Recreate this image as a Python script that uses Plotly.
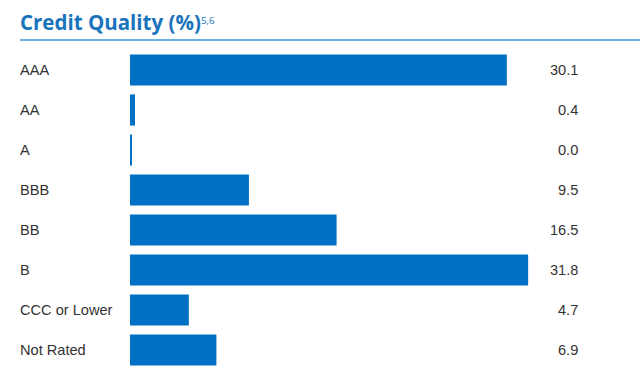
import plotly.graph_objects as go

categories = ["AAA", "AA", "A", "BBB", "BB", "B", "CCC or Lower", "Not Rated"]
values = [30.1, 0.4, 0.0, 9.5, 16.5, 31.8, 4.7, 6.9]
value_labels = ["30.1", "0.4", "0.0", "9.5", "16.5", "31.8", "4.7", "6.9"]

W, H = 640, 388
ml, mr, mt, mb = 130, 0, 50, 18
pw = W - ml - mr
ph = H - mt - mb

fig = go.Figure()
fig.add_trace(go.Bar(
    x=[max(v, 0.12) for v in values], y=categories, orientation="h",
    marker=dict(color="#0070c4", line=dict(width=0)),
    width=0.78, hoverinfo="skip",
))

ann = []
for c, lab in zip(categories, value_labels):
    ann.append(dict(x=(18 - ml) / pw, y=c, xref="paper", yref="y", text=c,
                    xanchor="left", yanchor="middle", showarrow=False,
                    font=dict(family="Liberation Sans, Arial", size=14.6, color="#333333")))
    ann.append(dict(x=(580 - ml) / pw, y=c, xref="paper", yref="y", text=lab,
                    xanchor="right", yanchor="middle", showarrow=False,
                    font=dict(family="Liberation Sans, Arial", size=14.6, color="#333333")))
ann.append(dict(x=(18 - ml) / pw, y=1 + (mt - 22) / ph, xref="paper", yref="paper",
                text="<b>Credit Quality (%)</b><span style='font-size:14px'><sup>5,6</sup></span>",
                xanchor="left", yanchor="middle", showarrow=False,
                font=dict(family="Open Sans, Lato", size=20.5, color="#1a74bb")))

fig.update_layout(
    width=W, height=H, margin=dict(l=ml, r=mr, t=mt, b=mb),
    paper_bgcolor="white", plot_bgcolor="white",
    xaxis=dict(range=[0, pw / 12.52], visible=False, fixedrange=True),
    yaxis=dict(categoryorder="array", categoryarray=categories,
               range=[len(categories) - 0.5, -0.5], visible=False, fixedrange=True),
    showlegend=False, bargap=0.2, hovermode=False,
    annotations=ann,
    shapes=[dict(type="line", xref="paper", yref="paper",
                 x0=(20 - ml) / pw, x1=1, y0=1 + (mt - 40) / ph, y1=1 + (mt - 40) / ph,
                 line=dict(color="#3d9ad8", width=1.5))],
)
fig.write_html("out.html", config={"displayModeBar": False},
               post_script="document.body.style.margin='0';document.body.style.padding='0';")
